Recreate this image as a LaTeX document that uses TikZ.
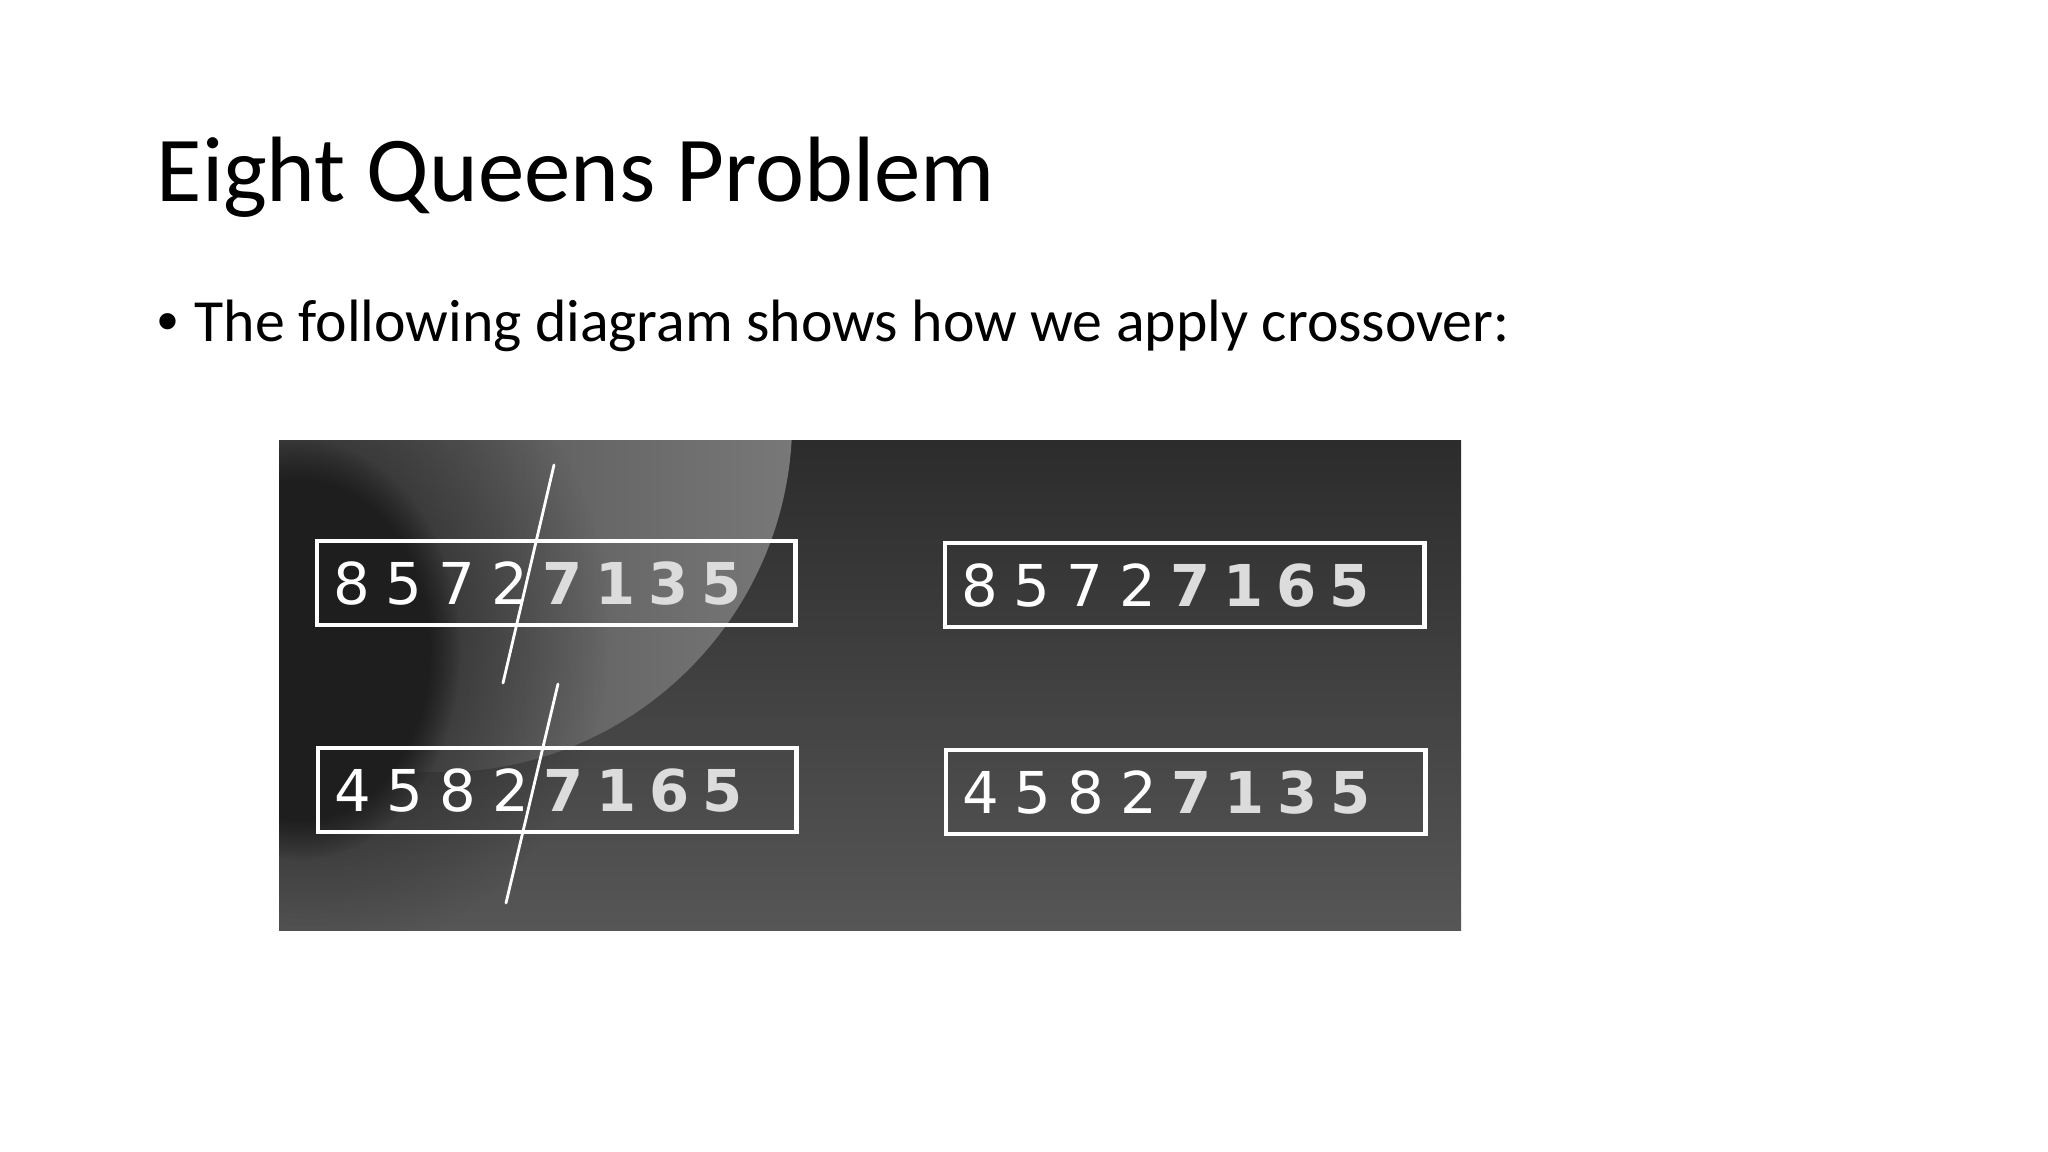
\documentclass[tikz,border=0pt]{standalone}
\usepackage{fontspec}
\setmainfont{Carlito}
\newfontfamily\digitfont{DejaVu Sans}
\newfontfamily\bulletfont{Liberation Sans}
\usetikzlibrary{positioning,fadings}

\definecolor{imgtop}{HTML}{2C2C2C}
\definecolor{imgbottom}{HTML}{565656}
\definecolor{spheredark}{HTML}{3A3A3A}
\definecolor{spherelight}{HTML}{787878}
\definecolor{shadow}{HTML}{1E1E1E}
\definecolor{tailgray}{HTML}{DCDCDC}

\tikzfading[name=softspot, inner color=transparent!0, outer color=transparent!100]

\tikzset{
  title/.style={anchor=base west, inner sep=0pt, font=\fontsize{26.4}{32}\selectfont},
  body/.style={anchor=base west, inner sep=0pt, font=\fontsize{17}{20}\selectfont},
  gene/.style={draw=white, line width=1.2pt, anchor=north west, inner xsep=0.08cm, inner ysep=0pt,
    minimum height=0.84cm, text=white, font=\digitfont\fontsize{16.4}{18}\selectfont},
  cut/.style={white, line width=0.8pt, line cap=round},
}

% #1 inner width, #2 digit pitch, #3 head genes, #4 tail genes
\newcommand{\chromo}[4]{\makebox[#1][l]{\foreach \d in {#3}{\makebox[#2]{\d}}\foreach \d in {#4}{\makebox[#2]{\bfseries\color{tailgray}\d}}}}

\begin{document}
\begin{tikzpicture}[x=0.01cm, y=-0.01cm]
  \useasboundingbox (0,0) rectangle (2048,1152);
  \fill[white] (0,0) rectangle (2048,1152);

  \node[title] (title) at (156,202) {Eight Queens Problem};
  \node[body, font=\bulletfont\fontsize{17}{20}\selectfont] (dot) at (157,342) {•};
  \node[body] (lead) at (194,342) {The following diagram shows how we apply crossover:};

  % background of the picture
  \begin{scope}
    \clip (279,441) rectangle (1461,930);
    \shade[top color=imgtop, bottom color=imgbottom] (279,441) rectangle (1461,930);
    \shade[left color=spheredark, right color=spherelight] (440,420) circle (3.52cm);
    \fill[shadow, path fading=softspot] (310,630) ellipse (3.0cm and 3.3cm);
    \fill[shadow, path fading=circle with fuzzy edge 20 percent] (300,650) ellipse (1.6cm and 2.1cm);
  \end{scope}

  % parents
  \node[gene] (p1) at (315,539) {\chromo{4.62cm}{0.528cm}{8,5,7,2}{7,1,3,5}};
  \node[gene] (p2) at (316,746) {\chromo{4.62cm}{0.528cm}{4,5,8,2}{7,1,6,5}};
  % offspring
  \node[gene] (c1) at (943,541) {\chromo{4.63cm}{0.528cm}{8,5,7,2}{7,1,6,5}};
  \node[gene] (c2) at (944,748) {\chromo{4.63cm}{0.528cm}{4,5,8,2}{7,1,3,5}};

  % crossover points
  \coordinate (cut1a) at (554,465);
  \coordinate (cut1b) at (503,683);
  \coordinate (cut2a) at (558,684);
  \coordinate (cut2b) at (506,903);
  \draw[cut] (cut1a) -- (cut1b);
  \draw[cut] (cut2a) -- (cut2b);
\end{tikzpicture}
\end{document}
